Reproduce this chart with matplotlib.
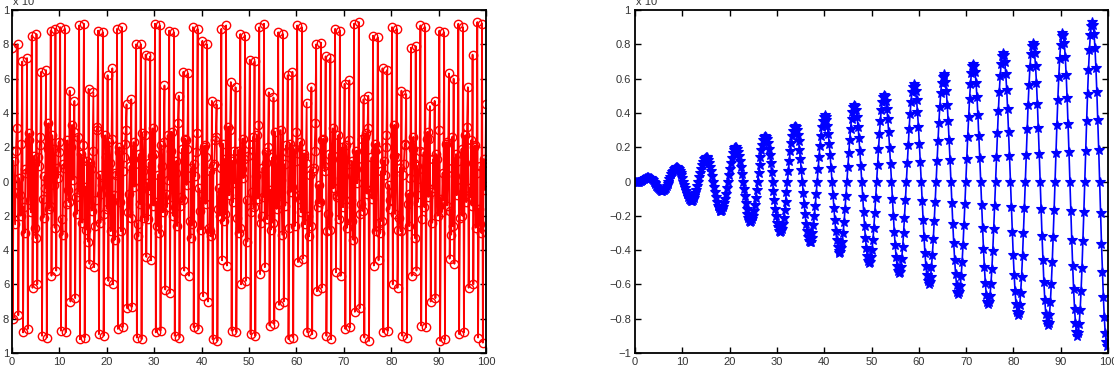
import numpy as np
import matplotlib
matplotlib.use("Agg")
import matplotlib.pyplot as plt

plt.rcParams['font.family'] = ['Liberation Sans', 'DejaVu Sans']

# left panel: aliased signal (x runs 0..100)
left_vals = [
    .78, -.80, .12, -.06, -.25, .18, .31, .80, -.78, .02, -.08, -.20,
    .22, .70, -.88, -.15, -.30, .07, .05, .72, -.86, .24, .28, -.11,
    -.18, .85, -.62, .09, .15, -.27, -.33, .86, -.60, .14, .09, .21,
    .26, .64, -.90, -.10, -.21, .03, -.04, .65, -.91, .19, .34, -.16,
    -.14, .88, -.55, .27, .19, -.02, -.27, .89, -.52, .08, .02, .23,
    .17, .90, -.87, -.22, -.31, .10, .08, .89, -.88, -.13, .24, -.05,
    -.12, .53, -.70, .20, .33, .01, .29, .47, -.68, -.09, -.19, .26,
    -.06, .91, -.92, .16, .13, -.24, .21, .92, -.91, -.03, -.28, .12,
    -.35, .54, -.48, .11, .07, -.17, .18, .52, -.50, -.26, -.11, .30,
    .32, .88, -.89, .04, -.24, -.07, -.02, .87, -.90, -.19, .27, .14,
    -.16, .62, -.58, .23, .11, -.29, .25, .66, -.60, -.08, -.34, .05,
    .04, .89, -.86, .17, .20, -.12, -.29, .90, -.85, .06, .14, .22,
    .30, .45, -.74, -.18, -.07, .09, -.21, .48, -.73, .13, .23, -.03,
    .10, .80, -.91, -.25, -.32, .16, -.13, .80, -.92, .28, .06, -.21,
    .27, .74, -.44, -.01, -.22, .11, -.05, .73, -.46, .15, .31, -.14,
    .16, .92, -.88, -.12, -.26, .04, -.30, .91, -.87, .21, .09, -.18,
    .23, .56, -.63, -.07, -.15, .27, .01, .88, -.65, .18, .29, -.09,
    -.20, .87, -.90, .05, .12, -.26, .34, .50, -.91, -.14, -.09, .19,
    -.11, .64, -.52, .25, .24, -.02, .19, .63, -.55, -.23, -.33, .08,
    -.25, .90, -.85, .10, .03, .17, .28, .89, -.86, -.04, -.17, -.28,
    -.07, .82, -.67, .20, .21, -.13, .14, .80, -.70, -.27, -.29, .06,
    -.32, .47, -.92, .09, .10, .24, .26, .45, -.93, -.16, -.04, -.20,
    .08, .89, -.46, .22, -.23, .13, -.19, .91, -.49, -.02, .32, -.08,
    .30, .58, -.87, .12, -.12, .18, -.01, .55, -.88, -.21, .18, -.30,
    -.27, .86, -.60, .07, .25, .02, .13, .85, -.58, -.11, -.35, .15,
    .22, .71, -.89, -.18, -.06, .26, -.15, .70, -.90, .03, .27, -.10,
    .33, .90, -.54, -.24, -.20, .08, -.09, .92, -.50, .17, .11, -.22,
    .20, .52, -.84, -.05, -.28, .14, -.24, .49, -.83, .29, .05, -.16,
    .07, .87, -.72, -.13, .30, .01, -.31, .86, -.70, .10, -.14, .21,
    .17, .62, -.92, -.27, .22, -.06, -.03, .64, -.91, .19, -.26, .12,
    .29, .91, -.47, -.08, -.10, .23, -.18, .90, -.45, .14, .16, -.25,
    .11, .46, -.88, -.20, -.32, .04, -.26, .55, -.89, .06, .08, .18,
    .34, .80, -.64, -.15, -.02, -.12, -.12, .81, -.62, .24, .25, .09,
    .06, .73, -.90, -.29, -.19, .16, -.28, .72, -.92, .13, .31, -.04,
    .15, .89, -.53, -.09, -.08, .27, -.22, .88, -.55, .02, .20, -.15,
    .03, .57, -.86, .21, -.27, .10, .24, .59, -.85, -.11, .12, -.23,
    -.34, .92, -.76, .07, .18, -.01, .09, .93, -.74, -.19, -.13, .25,
    -.17, .48, -.91, .26, .28, -.07, .31, .50, -.93, -.05, -.05, .14,
    -.10, .85, -.49, .18, .22, -.29, .19, .84, -.46, -.24, -.30, .06,
    -.23, .66, -.88, .12, .04, .20, .27, .65, -.87, -.02, -.16, -.11,
    -.06, .90, -.60, .15, .33, -.19, .14, .89, -.62, -.28, -.21, .08,
    -.29, .53, -.90, .04, .10, .22, .21, .51, -.91, -.13, -.07, -.26,
    .02, .78, -.55, .19, .26, .11, -.33, .79, -.52, .09, -.12, -.03,
    .18, .91, -.84, -.22, .07, .17, -.15, .90, -.85, .25, .29, -.09,
    .25, .44, -.70, -.06, -.24, .13, -.04, .47, -.68, .16, .13, -.20,
    .30, .88, -.93, -.10, -.18, .05, -.11, .87, -.92, .22, .23, -.14,
    .08, .63, -.45, -.17, -.31, .26, -.26, .60, -.48, .03, .16, -.08,
    .12, .92, -.89, -.21, -.03, .19, -.20, .90, -.88, .11, .27, -.12,
    .32, .55, -.62, -.04, -.09, .24, -.14, .74, -.60, .20, .21, -.27,
    .05, .93, -.91, -.16, -.25, .09, -.30, .92, -.94, .13, .11, -.05,
    .45,
]

# right panel: growing oscillation (x runs 0..100)
right_vals = [
    0, -.001, -.001, -.001,
    0, .002, .004, .007, .011, .014, .017, .020, .023, .024, .024, .023, .021, .018, .013, .007,
    0, -.008, -.016, -.024, -.032, -.039, -.045, -.050, -.053, -.054, -.052, -.049, -.043, -.035, -.025, -.013,
    0, .014, .027, .041, .053, .064, .073, .080, .083, .083, .080, .074, .064, .051, .036, .019,
    0, -.020, -.039, -.058, -.075, -.089, -.101, -.109, -.113, -.113, -.108, -.099, -.085, -.068, -.048, -.025,
    0, .025, .051, .075, .096, .114, .129, .139, .143, .143, .136, .124, .107, .085, .059, .031,
    0, -.031, -.062, -.091, -.117, -.140, -.157, -.168, -.174, -.172, -.164, -.149, -.128, -.102, -.071, -.036,
    0, .037, .074, .108, .139, .165, .185, .198, .204, .202, .192, .174, .149, .118, .082, .042,
    0, -.043, -.085, -.125, -.160, -.190, -.213, -.228, -.234, -.231, -.220, -.199, -.171, -.135, -.094, -.048,
    0, .049, .097, .142, .181, .215, .241, .257, .264, .261, .248, .224, .192, .152, .105, .054,
    0, -.055, -.108, -.158, -.203, -.240, -.268, -.287, -.294, -.291, -.275, -.249, -.213, -.169, -.117, -.060,
    0, .061, .120, .175, .224, .265, .296, .316, .324, .320, .303, .274, .235, .186, .129, .066,
    0, -.067, -.131, -.192, -.245, -.290, -.324, -.346, -.355, -.350, -.331, -.299, -.256, -.202, -.140, -.072,
    0, .072, .143, .209, .267, .315, .352, .376, .385, .379, .359, .324, .277, .219, .152, .078,
    0, -.078, -.155, -.225, -.288, -.340, -.380, -.405, -.415, -.409, -.387, -.350, -.299, -.236, -.163, -.083,
    0, .084, .166, .242, .309, .365, .408, .435, .445, .439, .415, .375, .320, .253, .175, .089,
    0, -.090, -.178, -.259, -.331, -.390, -.436, -.464, -.475, -.468, -.443, -.400, -.341, -.269, -.186, -.095,
    0, .096, .189, .276, .352, .415, .464, .494, .506, .498, .471, .425, .363, .286, .198, .101,
    0, -.102, -.201, -.293, -.373, -.440, -.491, -.524, -.536, -.527, -.498, -.450, -.384, -.303, -.210, -.107,
    0, .108, .212, .309, .395, .465, .519, .553, .566, .557, .526, .475, .405, .320, .221, .113,
    0, -.114, -.224, -.326, -.416, -.491, -.547, -.583, -.596, -.587, -.554, -.500, -.427, -.337, -.233, -.119,
    0, .120, .236, .343, .437, .516, .575, .612, .626, .616, .582, .525, .448, .353, .244, .125,
    0, -.125, -.247, -.360, -.459, -.541, -.603, -.642, -.656, -.646, -.610, -.550, -.469, -.370, -.256, -.131,
    0, .131, .259, .376, .480, .566, .631, .672, .687, .675, .638, .575, .491, .387, .267, .136,
    0, -.137, -.270, -.393, -.501, -.591, -.659, -.701, -.717, -.705, -.666, -.600, -.512, -.404, -.279, -.142,
    0, .143, .282, .410, .523, .616, .687, .731, .747, .735, .694, .625, .533, .421, .290, .148,
    0, -.149, -.293, -.427, -.544, -.641, -.715, -.760, -.777, -.764, -.721, -.650, -.555, -.437, -.302, -.154,
    0, .155, .305, .444, .565, .666, .742, .790, .807, .794, .749, .675, .576, .454, .313, .160,
    0, -.161, -.316, -.460, -.587, -.691, -.770, -.820, -.837, -.823, -.777, -.701, -.597, -.471, -.325, -.166,
    0, .167, .328, .477, .608, .716, .798, .849, .868, .853, .805, .726, .619, .488, .337, .172,
    0, -.172, -.340, -.494, -.629, -.741, -.826, -.879, -.898, -.883, -.833, -.751, -.640, -.504, -.348, -.178,
    0, .178, .351, .511, .651, .766, .854, .908, .928, .912, .861, .776, .661, .521, .360, .184,
    0, -.184, -.363, -.527, -.672, -.791, -.882, -.938, -.958, -.942,
]

x_ticks = [0, 10, 20, 30, 40, 50, 60, 70, 80, 90, 100]
y_ticks = [-1, -0.8, -0.6, -0.4, -0.2, 0, 0.2, 0.4, 0.6, 0.8, 1]
y_ticklabels = ['\u22121', '\u22120.8', '\u22120.6', '\u22120.4', '\u22120.2', '0',
                '0.2', '0.4', '0.6', '0.8', '1']
exp_label = 'x 10'

W, H = 1114, 378
fig = plt.figure(figsize=(W / 100, H / 100), dpi=100)
ax1 = fig.add_axes([12 / W, 1 - 353 / H, 474 / W, 343 / H])
ax2 = fig.add_axes([635 / W, 1 - 353 / H, 473 / W, 343 / H])

x_left = np.linspace(0, 100, len(left_vals))
x_right = np.linspace(0, 100, len(right_vals))

ax1.plot(x_left, left_vals, color='red', lw=1.25, marker='o', ms=6,
         mfc='none', mec='red', mew=1.0)
ax2.plot(x_right, right_vals, color='blue', lw=1.2, marker='*', ms=7,
         mfc='blue', mec='blue', mew=0.8)

for ax in (ax1, ax2):
    ax.set_xlim(0, 100)
    ax.set_ylim(-1, 1)
    ax.set_xticks(x_ticks)
    ax.set_yticks(y_ticks)
    ax.set_xticklabels([str(t) for t in x_ticks])
    ax.set_yticklabels(y_ticklabels)
    ax.tick_params(direction='in', length=4, width=1, top=True, right=True,
                   labelsize=8, colors='black', labelcolor='#333333', pad=3)
    for s in ax.spines.values():
        s.set_linewidth(1.3)

# left axis labels end up clipped by the figure edge like the original
ax1.set_yticklabels(['1', '8', '6', '4', '2', '0', '2', '4', '6', '8', '1'])
ax1.tick_params(axis='y', pad=2)

fig.text(13 / W, 1 - 5 / H, exp_label, fontsize=8, color='#333333', va='baseline')
fig.text(636 / W, 1 - 5 / H, exp_label, fontsize=8, color='#333333', va='baseline')

fig.savefig('out.png', dpi=100)
